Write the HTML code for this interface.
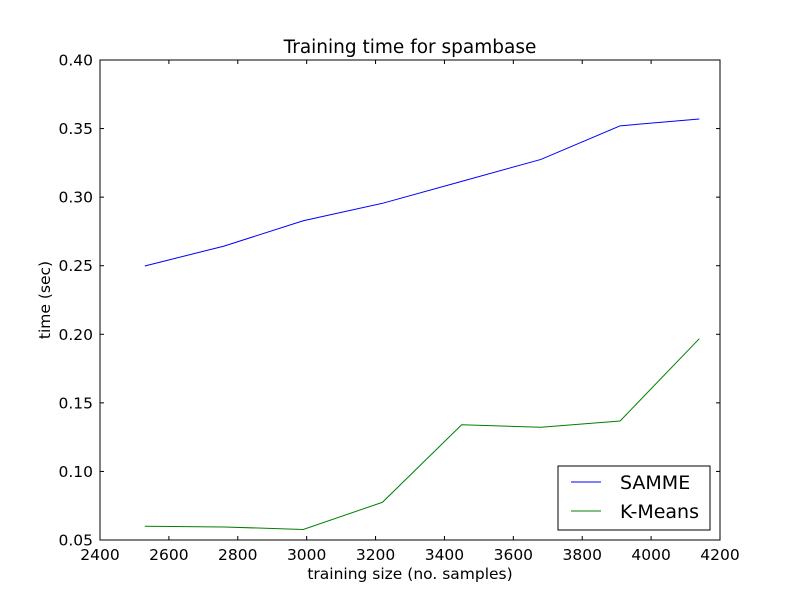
<!DOCTYPE html>
<html><head><meta charset="utf-8"><style>body{margin:0;background:#fff}svg{display:block;font-family:"DejaVu Sans","Liberation Sans",sans-serif}</style></head>
<body>
<svg id="chart" width="800" height="600" viewBox="0 0 800 600" xmlns="http://www.w3.org/2000/svg">
<rect width="800" height="600" fill="#fff"/>
<g id="plot"></g>
</svg>
<script>
const xValues = [2530, 2760, 2990, 3220, 3450, 3680, 3910, 4140];
const sammeValues = [0.2498, 0.2643, 0.2828, 0.2955, 0.3115, 0.3275, 0.3520, 0.3570];
const kmeansValues = [0.0600, 0.0595, 0.0577, 0.0775, 0.1340, 0.1322, 0.1368, 0.1968];
const xTicks = [2400, 2600, 2800, 3000, 3200, 3400, 3600, 3800, 4000, 4200];
const yTicks = [0.05, 0.10, 0.15, 0.20, 0.25, 0.30, 0.35, 0.40];
const seriesNames = ["SAMME", "K-Means"];

const L=100,R=720,T=60,B=540;
const xs=v=>L+(v-2400)/(4200-2400)*(R-L);
const ys=v=>B-(v-0.05)/(0.40-0.05)*(B-T);
const NS="http://www.w3.org/2000/svg";
const g=document.getElementById('plot');
function mk(tag,attrs,parent){const e=document.createElementNS(NS,tag);for(const k in attrs)e.setAttribute(k,attrs[k]);(parent||g).appendChild(e);return e;}

function line(vals,color,name){
  const p=mk('polyline',{points:vals.map((v,i)=>xs(xValues[i])+','+ys(v)).join(' '),fill:'none',stroke:color,'stroke-width':1});
  
  
}
line(sammeValues,'#0000ff','samme-line');
line(kmeansValues,'#008000','kmeans-line');

xTicks.forEach(t=>{
  const x=xs(t);
  mk('line',{x1:x,x2:x,y1:B,y2:B-4,stroke:'#000'});
  mk('line',{x1:x,x2:x,y1:T,y2:T+4,stroke:'#000'});
  const tx=mk('text',{x:x,y:B+20,'text-anchor':'middle','font-size':15.5});
  tx.textContent=t;
  
  
});
yTicks.forEach(t=>{
  const y=ys(t);
  mk('line',{x1:L,x2:L+4,y1:y,y2:y,stroke:'#000'});
  mk('line',{x1:R,x2:R-4,y1:y,y2:y,stroke:'#000'});
  const tx=mk('text',{x:L-7,y:y+5.5,'text-anchor':'end','font-size':15.5});
  tx.textContent=t.toFixed(2);
  
  
});
const frame=mk('rect',{x:L,y:T,width:R-L,height:B-T,fill:'none',stroke:'#000'});



const title=mk('text',{x:410,y:53,'text-anchor':'middle','font-size':18.5});
title.textContent='Training time for spambase';


const xl=mk('text',{x:410,y:579,'text-anchor':'middle','font-size':15.5});
xl.textContent='training size (no. samples)';


const yl=mk('text',{x:0,y:0,'text-anchor':'middle','font-size':15.5,transform:'translate(50,300) rotate(-90)'});
yl.textContent='time (sec)';



const leg=mk('g',{});


mk('rect',{x:558,y:466,width:152,height:64,fill:'#fff',stroke:'#000'},leg);
const colors=['#0000ff','#008000'];
seriesNames.forEach((n,i)=>{
  const y=482+i*29;
  const e=mk('g',{},leg);
  
  
  mk('line',{x1:571,x2:601,y1:y,y2:y,stroke:colors[i]},e);
  const t=mk('text',{x:620,y:y+7,'font-size':19},e);
  t.textContent=n;
});
</script>
</body></html>
